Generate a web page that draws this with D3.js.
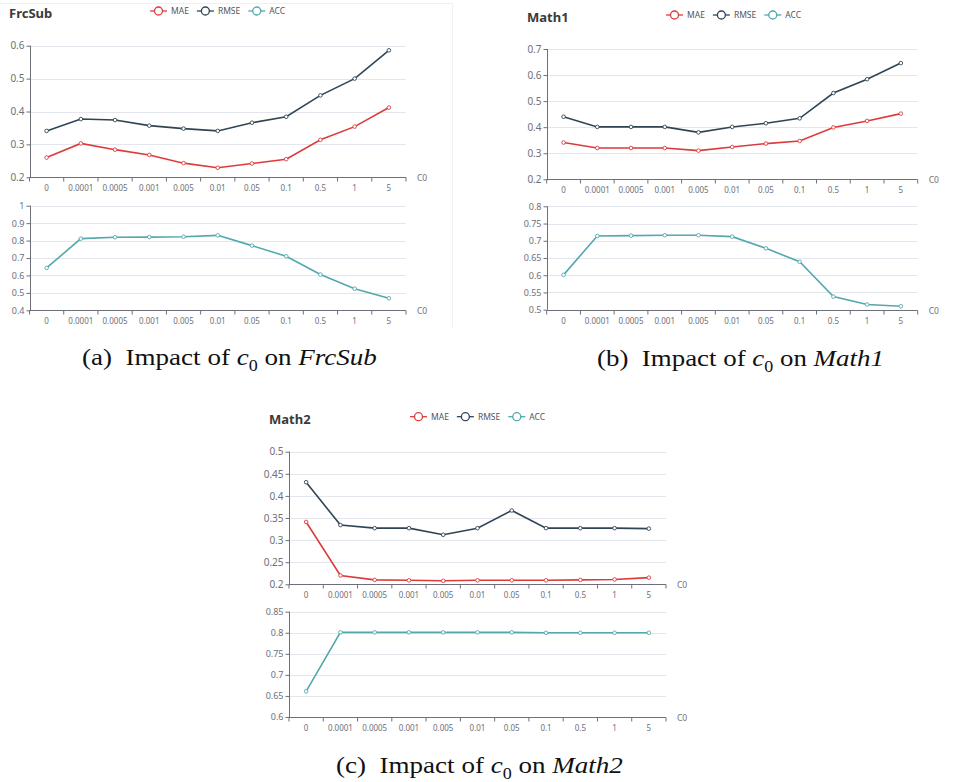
<!DOCTYPE html>
<html>
<head>
<meta charset="utf-8">
<script src="https://cdn.jsdelivr.net/npm/d3@7"></script>
<style>
  body { margin: 0; background: #fff; }
  svg { display: block; }
  text { font-family: "Noto Sans", "Open Sans", sans-serif; }
  .cap { font-family: "Liberation Serif", "DejaVu Serif", serif; }
</style>
</head>
<body>
<svg id="canvas" width="953" height="782"></svg>
<script>
// categories (c0 values)
var categories = ['0', '0.0001', '0.0005', '0.001', '0.005', '0.01', '0.05', '0.1', '0.5', '1', '5'];

// FrcSub
var frcsubMAE  = [0.260, 0.303, 0.284, 0.268, 0.243, 0.229, 0.242, 0.255, 0.314, 0.354, 0.412];
var frcsubRMSE = [0.341, 0.377, 0.374, 0.357, 0.348, 0.341, 0.366, 0.384, 0.449, 0.500, 0.586];
var frcsubACC  = [0.643, 0.811, 0.819, 0.820, 0.822, 0.830, 0.771, 0.710, 0.605, 0.524, 0.469];

// Math1
var math1MAE  = [0.341, 0.320, 0.320, 0.320, 0.310, 0.324, 0.337, 0.347, 0.399, 0.424, 0.452];
var math1RMSE = [0.440, 0.401, 0.401, 0.401, 0.380, 0.401, 0.415, 0.434, 0.531, 0.584, 0.646];
var math1ACC  = [0.601, 0.714, 0.715, 0.716, 0.716, 0.712, 0.678, 0.639, 0.538, 0.515, 0.510];

// Math2
var math2MAE  = [0.341, 0.220, 0.210, 0.209, 0.208, 0.209, 0.209, 0.209, 0.210, 0.211, 0.215];
var math2RMSE = [0.431, 0.334, 0.327, 0.327, 0.312, 0.327, 0.367, 0.327, 0.327, 0.327, 0.326];
var math2ACC  = [0.661, 0.801, 0.801, 0.801, 0.801, 0.801, 0.801, 0.800, 0.800, 0.800, 0.800];

// y tick labels
var frcsubTopTicks = [0.2, 0.3, 0.4, 0.5, 0.6];
var frcsubBotTicks = [0.4, 0.5, 0.6, 0.7, 0.8, 0.9, 1];
var math1TopTicks  = [0.2, 0.3, 0.4, 0.5, 0.6, 0.7];
var math1BotTicks  = [0.5, 0.55, 0.6, 0.65, 0.7, 0.75, 0.8];
var math2TopTicks  = [0.2, 0.25, 0.3, 0.35, 0.4, 0.45, 0.5];
var math2BotTicks  = [0.6, 0.65, 0.7, 0.75, 0.8, 0.85];

var seriesNames = ['MAE', 'RMSE', 'ACC'];
var colors = { MAE: '#dd3b3b', RMSE: '#2f4554', ACC: '#52a8ac' };

var canvas = d3.select('#canvas');

// faint border of the first screenshot
canvas.append('path')
  .attr('d', 'M0,3.5H452.5V327')
  .attr('fill', 'none')
  .attr('stroke', '#f0f0f0');

function drawPlot(g, opt) {
  var x = d3.scaleBand().domain(categories).range([opt.x0, opt.x1]);
  var y = d3.scaleLinear()
    .domain([opt.ticks[0], opt.ticks[opt.ticks.length - 1]])
    .range([opt.yBot, opt.yTop]);

  // grid
  g.append('g').selectAll('line')
    .data(opt.ticks.slice(1))
    .enter().append('line')
    .attr('x1', opt.x0).attr('x2', opt.x1)
    .attr('y1', function (d) { return Math.round(y(d)) + 0.5; })
    .attr('y2', function (d) { return Math.round(y(d)) + 0.5; })
    .attr('stroke', '#e3e6ec');

  // y axis
  var yAxis = d3.axisLeft(y).tickValues(opt.ticks).tickSize(4).tickFormat(d3.format('~g'));
  var ya = g.append('g').attr('transform', 'translate(' + (Math.round(opt.x0) + 0.5) + ',0)').call(yAxis);
  ya.select('.domain').attr('stroke', '#6e7079').attr('d', 'M0,' + opt.yTop + 'V' + opt.yBot);
  ya.selectAll('.tick line').attr('stroke', '#6e7079');
  ya.selectAll('.tick text')
    .attr('fill', '#6e7079')
    .attr('font-size', opt.yFont)
    .attr('x', -6)
    .style('font-family', '"Noto Sans", sans-serif');

  // x axis with ticks on band boundaries
  var xa = g.append('g').attr('transform', 'translate(0,' + (Math.round(opt.yBot) + 0.5) + ')');
  xa.append('line')
    .attr('x1', opt.x0).attr('x2', opt.x1)
    .attr('stroke', '#6e7079');
  var bounds = categories.map(function (c) { return x(c); }).concat([opt.x1]);
  xa.selectAll('.xt').data(bounds).enter().append('line')
    .attr('x1', function (d) { return d; }).attr('x2', function (d) { return d; })
    .attr('y1', 0).attr('y2', 4)
    .attr('stroke', '#6e7079');
  xa.selectAll('.xl').data(categories).enter().append('text')
    .attr('x', function (d) { return x(d) + x.bandwidth() / 2; })
    .attr('y', 13)
    .attr('text-anchor', 'middle')
    .attr('font-size', 8)
    .attr('fill', '#6e7079')
    .text(function (d) { return d; });
  xa.append('text')
    .attr('x', opt.x1 + 11).attr('y', 3)
    .attr('font-size', 8.5)
    .attr('fill', '#6e7079')
    .text('C0');

  // lines and points
  opt.series.forEach(function (s) {
    var line = d3.line()
      .x(function (d, i) { return x(categories[i]) + x.bandwidth() / 2; })
      .y(function (d) { return y(d); });
    g.append('path')
      .datum(s.values)
      .attr('d', line)
      .attr('fill', 'none')
      .attr('stroke', colors[s.name])
      .attr('stroke-width', 1.6);
    g.append('g').selectAll('circle')
      .data(s.values)
      .enter().append('circle')
      .attr('cx', function (d, i) { return x(categories[i]) + x.bandwidth() / 2; })
      .attr('cy', function (d) { return y(d); })
      .attr('r', 1.8)
      .attr('fill', '#fff')
      .attr('stroke', colors[s.name])
      .attr('stroke-width', 0.9);
  });
}

function drawPanel(p) {
  var g = canvas.append('g');

  // title
  g.append('text')
    .attr('x', p.titleX).attr('y', p.titleY)
    .attr('font-size', 13)
    .attr('font-weight', 'bold')
    .attr('fill', '#3a3a3a')
    .text(p.title);

  // legend
  var lx = p.legendX;
  seriesNames.forEach(function (n) {
    var lg = g.append('g');
    lg.append('line')
      .attr('x1', lx).attr('x2', lx + 17)
      .attr('y1', p.legendY).attr('y2', p.legendY)
      .attr('stroke', colors[n]).attr('stroke-width', 1.3);
    lg.append('circle')
      .attr('cx', lx + 8.5).attr('cy', p.legendY).attr('r', 4)
      .attr('fill', '#fff')
      .attr('stroke', colors[n]).attr('stroke-width', 1.3);
    var t = lg.append('text')
      .attr('x', lx + 21).attr('y', p.legendY + 3)
      .attr('font-size', 8.5)
      .attr('fill', '#555')
      .text(n);
    lx += 21 + t.node().getComputedTextLength() + 8;
  });

  drawPlot(g, {
    x0: p.x0, x1: p.x1, yTop: p.top[0], yBot: p.top[1], ticks: p.topTicks, yFont: 10,
    series: [{ name: 'MAE', values: p.mae }, { name: 'RMSE', values: p.rmse }]
  });
  drawPlot(g, {
    x0: p.x0, x1: p.x1, yTop: p.bot[0], yBot: p.bot[1], ticks: p.botTicks, yFont: 9,
    series: [{ name: 'ACC', values: p.acc }]
  });

  // caption, stretched horizontally to the width of the original
  var capG = g.append('g');
  var cap = capG.append('text')
    .attr('class', 'cap')
    .attr('x', 0).attr('y', 0)
    .attr('font-size', 24)
    .attr('fill', '#111');
  cap.append('tspan').text('(' + p.letter + ')\u2002Impact of ');
  cap.append('tspan').attr('font-style', 'italic').text('c');
  cap.append('tspan').attr('font-size', 16).attr('dy', 6).text('0');
  cap.append('tspan').attr('dy', -6).text(' on ');
  cap.append('tspan').attr('font-style', 'italic').text(p.title);
  var w = cap.node().getBBox().width;
  capG.attr('transform', 'translate(' + p.capX + ',' + p.capY + ') scale(' + (p.capW / w) + ',1)');
}

drawPanel({
  letter: 'a', title: 'FrcSub', titleX: 9, titleY: 18, legendX: 150, legendY: 11,
  x0: 29.5, x1: 406, top: [45.7, 177.3], bot: [205.7, 310.3],
  topTicks: frcsubTopTicks, botTicks: frcsubBotTicks,
  mae: frcsubMAE, rmse: frcsubRMSE, acc: frcsubACC,
  capX: 82, capY: 365, capW: 295
});

drawPanel({
  letter: 'b', title: 'Math1', titleX: 527, titleY: 21.5, legendX: 666, legendY: 15,
  x0: 546.7, x1: 917.7, top: [49, 179.3], bot: [206.3, 309.7],
  topTicks: math1TopTicks, botTicks: math1BotTicks,
  mae: math1MAE, rmse: math1RMSE, acc: math1ACC,
  capX: 597, capY: 366, capW: 287
});

drawPanel({
  letter: 'c', title: 'Math2', titleX: 269, titleY: 424, legendX: 410, legendY: 416.7,
  x0: 289, x1: 666, top: [451.7, 584.3], bot: [611.7, 717],
  topTicks: math2TopTicks, botTicks: math2BotTicks,
  mae: math2MAE, rmse: math2RMSE, acc: math2ACC,
  capX: 336, capY: 773, capW: 287
});
</script>
</body>
</html>
